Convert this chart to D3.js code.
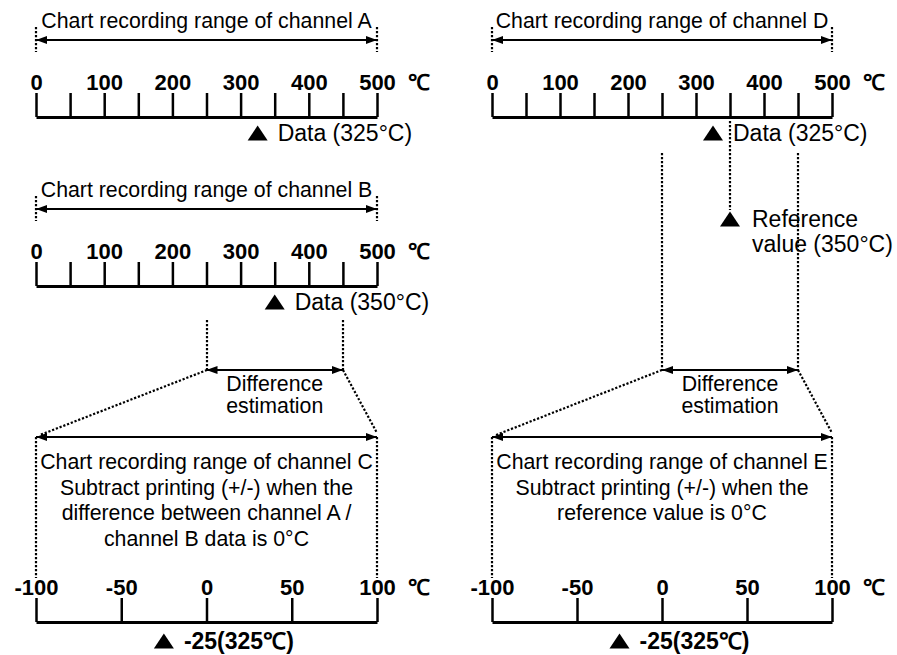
<!DOCTYPE html>
<html><head><meta charset="utf-8">
<script src="https://cdn.jsdelivr.net/npm/d3@7/dist/d3.min.js"></script>
<style>
body{margin:0;background:#fff;}
text{font-family:"Liberation Sans",Arial,sans-serif;fill:#000;}
</style></head>
<body><svg id="c" width="897" height="655"></svg>
<script>
// ---- data ----
const rangeDomain = [0, 500];
const rangeTicks = [0, 50, 100, 150, 200, 250, 300, 350, 400, 450, 500];
const rangeTickLabels = [0, 100, 200, 300, 400, 500];
const diffDomain = [-100, 100];
const diffTicks = [-100, -50, 0, 50, 100];
const diffTickLabels = [-100, -50, 0, 50, 100];
const dataA = 325, dataB = 350, dataD = 325, refValue = 350;
const diffC = -25, diffE = -25;
const diffWindow = [250, 450];
const unitLabel = "℃";
const titles = ["Chart recording range of channel A", "Chart recording range of channel B",
  "Chart recording range of channel D"];
const dataLabels = ["Data (325°C)", "Data (350°C)", "Data (325°C)"];
const refLabel = ["Reference", "value (350°C)"];
const diffLabel = ["Difference", "estimation"];
const boxC = ["Chart recording range of channel C", "Subtract printing (+/-) when the",
  "difference between channel A /", "channel B data is 0°C"];
const boxE = ["Chart recording range of channel E", "Subtract printing (+/-) when the",
  "reference value is 0°C"];
const resultLabels = ["-25(325℃)", "-25(325℃)"];

// ---- layout ----
const svg = d3.select("#c");
const cols = [{x0: 36, x1: 377}, {x0: 492, x1: 832}];
const FS = 21.3, FS_DATA = 23, FS_TICK = 22;
const defs = svg.append("defs");
["s","e"].forEach(k => {
  defs.append("marker").attr("id", "ar" + k).attr("viewBox", "0 0 11 8")
    .attr("refX", 11).attr("refY", 4).attr("markerWidth", 11).attr("markerHeight", 8)
    .attr("markerUnits", "userSpaceOnUse").attr("orient", k === "s" ? "auto-start-reverse" : "auto")
    .append("path").attr("d", "M0,0L11,4L0,8Z").attr("fill", "#000");
});
// flat triangle marker shape, 20 wide, 15 tall, centred on its point
const tri = "M-10,7.5L10,7.5L0,-7.5Z";

function dotted(x1, y1, x2, y2) {
  svg.append("line").attr("x1", Math.round(x1)).attr("y1", y1).attr("x2", Math.round(x2)).attr("y2", y2)
    .attr("stroke", "#000").attr("stroke-width", 2.2).attr("stroke-dasharray", "2.2,1.8");
}
function arrow(xa, xb, y) {
  svg.append("line").attr("x1", xa).attr("x2", xb).attr("y1", y).attr("y2", y)
    .attr("stroke", "#000").attr("stroke-width", 2)
    .attr("marker-start", "url(#ars)").attr("marker-end", "url(#are)");
}
function text(str, x, y, anchor, weight, size) {
  return svg.append("text").attr("x", x).attr("y", y).attr("text-anchor", anchor || "start")
    .attr("font-weight", weight || "normal").attr("font-size", size || FS).text(str);
}
function drawAxis(scale, ticks, labels, baseY) {
  const ax = d3.axisTop(scale).tickValues(ticks).tickSize(24).tickSizeOuter(0).tickPadding(3)
    .tickFormat(d => labels.includes(d) ? d : "");
  const g = svg.append("g").attr("transform", `translate(0,${baseY})`).call(ax);
  g.select(".domain").attr("stroke-width", 3);
  g.selectAll(".tick line").attr("stroke-width", 2.5);
  g.selectAll(".tick text").attr("font-size", FS_TICK).attr("font-weight", "bold")
    .attr("font-family", '"Liberation Sans",Arial,sans-serif').attr("fill", "#000");
  const r = scale.range()[1];
  text(unitLabel, r + 31, baseY - 27, "start", "bold", FS_TICK);
  return g;
}
function rangePanel(col, top, title, value, label) {
  const s = d3.scaleLinear().domain(rangeDomain).range([col.x0, col.x1]);
  const mid = (col.x0 + col.x1) / 2;
  text(title, mid, top + 1, "middle");
  dotted(col.x0, top, col.x0, top + 25);
  dotted(col.x1, top, col.x1, top + 25);
  arrow(col.x0, col.x1, top + 13);
  drawAxis(s, rangeTicks, rangeTickLabels, top + 90);
  svg.append("path").attr("d", tri).attr("transform", `translate(${s(value)},${top + 106})`);
  text(label, s(value) + 20, top + 114, "start", "normal", FS_DATA);
  return s;
}
const sA = rangePanel(cols[0], 27, titles[0], dataA, dataLabels[0]);
const sB = rangePanel(cols[0], 196, titles[1], dataB, dataLabels[1]);
const sD = rangePanel(cols[1], 27, titles[2], dataD, dataLabels[2]);

// reference value
dotted(sD(refValue), 121, sD(refValue), 210);
svg.append("path").attr("d", tri).attr("transform", `translate(${sD(refValue)},${219})`);
text(refLabel[0], sD(refValue) + 22, 227, "start", "normal", FS_DATA);
text(refLabel[1], sD(refValue) + 22, 252, "start", "normal", FS_DATA);

function diffPanel(col, s, dotTop, box, result, val) {
  const xa = s(diffWindow[0]), xb = s(diffWindow[1]);
  dotted(xa, dotTop, xa, 370);
  dotted(xb, dotTop, xb, 370);
  arrow(xa, xb, 370);
  text(diffLabel[0], (xa + xb) / 2, 391, "middle");
  text(diffLabel[1], (xa + xb) / 2, 413, "middle");
  dotted(xa, 370, col.x0 + 4, 435);
  dotted(xb, 370, col.x1, 433);
  arrow(col.x0, col.x1, 437);
  dotted(col.x0, 437, col.x0, 578);
  dotted(col.x1, 437, col.x1, 578);
  const mid = (col.x0 + col.x1) / 2;
  box.forEach((t, i) => text(t, mid, 469 + i * 26 - (i > 1 ? 1 : 0), "middle"));
  const sc = d3.scaleLinear().domain(diffDomain).range([col.x0, col.x1]);
  drawAxis(sc, diffTicks, diffTickLabels, 622);
  svg.append("path").attr("d", tri).attr("transform", `translate(${sc(val)},${641})`);
  text(result, sc(val) + 20, 649, "start", "bold", FS_DATA);
}
diffPanel(cols[0], sB, 320, boxC, resultLabels[0], diffC);
diffPanel(cols[1], sD, 153, boxE, resultLabels[1], diffE);
</script></body></html>
